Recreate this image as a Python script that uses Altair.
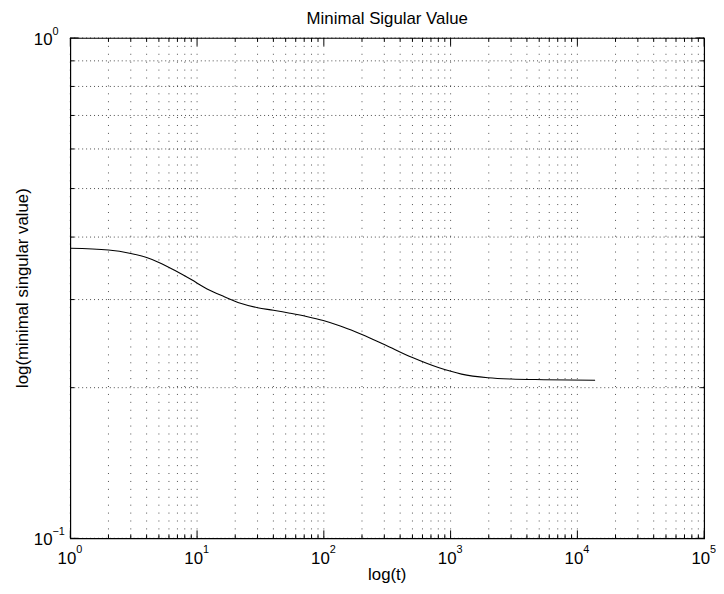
import altair as alt
import pandas as pd

# ---- data ----
t_values = [1, 2, 3, 4, 5, 6.7, 9, 12, 16.4, 22, 30, 40, 54, 73, 99, 133, 179, 202,
            300, 500, 800, 1220, 1970, 3000, 5450, 13800]
min_sv = [0.380, 0.377, 0.371, 0.364, 0.356, 0.343, 0.329, 0.315, 0.304, 0.295, 0.289,
          0.2856, 0.2818, 0.2776, 0.2725, 0.266, 0.2585, 0.2553, 0.244, 0.2297, 0.2194,
          0.2129, 0.2094, 0.2081, 0.2075, 0.207]

x_major = [1, 10, 100, 1000, 10000, 100000]
x_major_exp = ["0", "1", "2", "3", "4", "5"]
x_minor = [m * 10 ** k for k in range(5) for m in range(2, 10)]
y_major = [0.1, 1.0]
y_major_exp = ["\u22121", "0"]
y_minor = [round(0.1 * m, 1) for m in range(2, 10)]

title_text = ["Minimal Sigular Value"]
x_title = ["log(t)"]
y_title = ["log(minimal singular value)"]

W, H = 641, 506
FONT = "Liberation Sans"

xscale = alt.Scale(type="log", domain=[1, 100000], nice=False)
yscale = alt.Scale(type="log", domain=[0.1, 1], nice=False)

curve = pd.DataFrame({"t": t_values, "sv": min_sv})
xgrid = pd.DataFrame({"v": x_major + x_minor})
ygrid = pd.DataFrame({"v": y_major + y_minor})
xmaj = pd.DataFrame({"v": x_major, "e": x_major_exp, "b": ["10"] * len(x_major)})
xmin_df = pd.DataFrame({"v": x_minor})
ymaj = pd.DataFrame({"v": y_major, "e": y_major_exp, "b": ["10"] * len(y_major)})
ymin_df = pd.DataFrame({"v": y_minor})

# grid lines (dotted)
vgrid = alt.Chart(xgrid).mark_rule(color="black", strokeWidth=1, strokeDash=[1, 7], opacity=0.7).encode(
    x=alt.X("v:Q", scale=xscale, axis=None)
)
hgrid = alt.Chart(ygrid).mark_rule(color="black", strokeWidth=1, strokeDash=[1, 3], opacity=0.7).encode(
    y=alt.Y("v:Q", scale=yscale, axis=None)
)

line = alt.Chart(curve).mark_line(color="black", strokeWidth=1.1, interpolate="monotone").encode(
    x=alt.X("t:Q", scale=xscale, axis=None),
    y=alt.Y("sv:Q", scale=yscale, axis=None),
)


def xticks(df, length):
    bottom = alt.Chart(df).mark_rule(color="black", strokeWidth=1).encode(
        x=alt.X("v:Q", scale=xscale, axis=None), y=alt.value(H), y2=alt.value(H - length))
    top = alt.Chart(df).mark_rule(color="black", strokeWidth=1).encode(
        x=alt.X("v:Q", scale=xscale, axis=None), y=alt.value(0), y2=alt.value(length))
    return [bottom, top]


def yticks(df, length):
    left = alt.Chart(df).mark_rule(color="black", strokeWidth=1).encode(
        y=alt.Y("v:Q", scale=yscale, axis=None), x=alt.value(0), x2=alt.value(length))
    right = alt.Chart(df).mark_rule(color="black", strokeWidth=1).encode(
        y=alt.Y("v:Q", scale=yscale, axis=None), x=alt.value(W), x2=alt.value(W - length))
    return [left, right]


tick_layers = xticks(xmaj, 8) + xticks(xmin_df, 4) + yticks(ymaj, 8) + yticks(ymin_df, 4)

xlab_base = alt.Chart(xmaj).mark_text(font=FONT, fontSize=17, color="black", align="right",
                                      baseline="alphabetic", dx=6).encode(
    x=alt.X("v:Q", scale=xscale, axis=None), y=alt.value(H + 26), text="b:N")
xlab_exp = alt.Chart(xmaj).mark_text(font=FONT, fontSize=11, color="black", align="left",
                                     baseline="alphabetic", dx=6).encode(
    x=alt.X("v:Q", scale=xscale, axis=None), y=alt.value(H + 15), text="e:N")
ylab_base = alt.Chart(ymaj).mark_text(font=FONT, fontSize=17, color="black", align="right",
                                      baseline="alphabetic", dy=7).encode(
    y=alt.Y("v:Q", scale=yscale, axis=None), x=alt.value(-18), text="b:N")
ylab_exp = alt.Chart(ymaj).mark_text(font=FONT, fontSize=11, color="black", align="left",
                                     baseline="alphabetic", dy=-3).encode(
    y=alt.Y("v:Q", scale=yscale, axis=None), x=alt.value(-18), text="e:N")

title_layer = alt.Chart(pd.DataFrame({"s": title_text})).mark_text(
    font=FONT, fontSize=17, color="black", align="center", baseline="alphabetic").encode(
    x=alt.value(W / 2), y=alt.value(-14), text="s:N")
xtitle_layer = alt.Chart(pd.DataFrame({"s": x_title})).mark_text(
    font=FONT, fontSize=17, color="black", align="center", baseline="alphabetic").encode(
    x=alt.value(W / 2), y=alt.value(H + 42), text="s:N")
ytitle_layer = alt.Chart(pd.DataFrame({"s": y_title})).mark_text(
    font=FONT, fontSize=17, color="black", align="center", baseline="alphabetic", angle=270).encode(
    x=alt.value(-43), y=alt.value(H / 2), text="s:N")

chart = alt.layer(
    vgrid, hgrid, *tick_layers, line, xlab_base, xlab_exp, ylab_base, ylab_exp,
    title_layer, xtitle_layer, ytitle_layer
).properties(
    width=W, height=H,
    padding={"left": 63, "top": 27, "right": 12, "bottom": 50},
    autosize=alt.AutoSizeParams(type="none"),
    background="white",
).configure_view(stroke="black", strokeWidth=1.2)

chart.save("out.html", embed_options={"renderer": "svg", "actions": False})
